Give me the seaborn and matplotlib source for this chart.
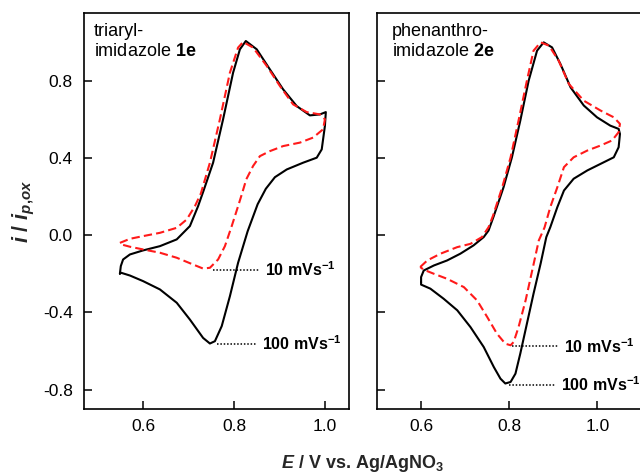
import matplotlib
matplotlib.use("Agg")
import matplotlib.pyplot as plt
import seaborn as sns
import pandas as pd

# ---- data ----
# Panel 1: triaryl-imidazole 1e, 100 mV/s (black, solid)
e1_100 = [0.549, 0.551, 0.556, 0.571, 0.600, 0.637, 0.674, 0.703, 0.721, 0.733, 0.754, 0.776, 0.798,
          0.813, 0.826, 0.850, 0.879, 0.908, 0.938, 0.967, 0.989, 1.002,
          1.000, 0.993, 0.982, 0.952, 0.916, 0.890, 0.870, 0.852, 0.830, 0.809, 0.791, 0.773, 0.758,
          0.747, 0.732, 0.703, 0.674, 0.637, 0.600, 0.571, 0.552, 0.549]
i1_100 = [-0.199, -0.160, -0.126, -0.100, -0.079, -0.057, -0.022, 0.047, 0.150, 0.230, 0.375, 0.600, 0.841,
          0.962, 1.005, 0.962, 0.858, 0.755, 0.668, 0.620, 0.625, 0.637,
          0.565, 0.444, 0.401, 0.375, 0.340, 0.300, 0.240, 0.160, 0.020, -0.143, -0.316, -0.471, -0.549,
          -0.561, -0.532, -0.437, -0.350, -0.281, -0.238, -0.209, -0.195, -0.199]
# Panel 1: 10 mV/s (red, dashed)
e1_10 = [0.549, 0.571, 0.600, 0.637, 0.674, 0.696, 0.714, 0.727, 0.747, 0.769, 0.791, 0.809, 0.820,
         0.842, 0.872, 0.901, 0.930, 0.960, 0.989, 1.000,
         0.996, 0.974, 0.945, 0.908, 0.879, 0.857, 0.842, 0.827, 0.817, 0.809, 0.795, 0.780, 0.765,
         0.747, 0.732, 0.710, 0.674, 0.637, 0.600, 0.571, 0.552, 0.549]
i1_10 = [-0.040, -0.019, -0.005, 0.012, 0.038, 0.081, 0.150, 0.215, 0.375, 0.600, 0.841, 0.971, 1.000,
         0.971, 0.876, 0.772, 0.677, 0.637, 0.625, 0.600,
         0.548, 0.505, 0.479, 0.461, 0.435, 0.409, 0.358, 0.289, 0.210, 0.150, 0.047, -0.057, -0.126,
         -0.169, -0.173, -0.152, -0.117, -0.091, -0.074, -0.060, -0.048, -0.040]

# Panel 2: phenanthro-imidazole 2e, 100 mV/s (black, solid)
e2_100 = [0.600, 0.600, 0.606, 0.629, 0.659, 0.689, 0.719, 0.742, 0.753, 0.765, 0.787, 0.806, 0.825,
          0.844, 0.863, 0.878, 0.897, 0.916, 0.939, 0.969, 0.999, 1.029, 1.048,
          1.051, 1.048, 1.037, 1.007, 0.977, 0.946, 0.924, 0.909, 0.893, 0.884, 0.871, 0.855, 0.840,
          0.825, 0.814, 0.803, 0.791, 0.780, 0.765, 0.742, 0.712, 0.682, 0.651, 0.621, 0.600, 0.600]
i2_100 = [-0.243, -0.217, -0.183, -0.157, -0.131, -0.096, -0.053, -0.010, 0.024, 0.100, 0.248, 0.403, 0.593,
          0.800, 0.955, 0.998, 0.972, 0.886, 0.765, 0.671, 0.610, 0.567, 0.550,
          0.524, 0.455, 0.403, 0.369, 0.335, 0.292, 0.231, 0.145, 0.041, -0.010, -0.148, -0.303, -0.458,
          -0.613, -0.717, -0.760, -0.768, -0.743, -0.683, -0.579, -0.476, -0.389, -0.329, -0.277, -0.256, -0.243]
# Panel 2: 10 mV/s (red, dashed)
e2_10 = [0.598, 0.614, 0.644, 0.682, 0.712, 0.738, 0.753, 0.763, 0.784, 0.803, 0.821, 0.840, 0.855,
         0.871, 0.890, 0.912, 0.935, 0.969, 1.007, 1.037, 1.051,
         1.048, 1.033, 1.007, 0.977, 0.946, 0.924, 0.909, 0.893, 0.880, 0.867, 0.852, 0.837, 0.821,
         0.810, 0.803, 0.791, 0.772, 0.750, 0.727, 0.697, 0.659, 0.629, 0.606, 0.598]
i2_10 = [-0.165, -0.131, -0.096, -0.062, -0.045, -0.010, 0.041, 0.100, 0.248, 0.403, 0.593, 0.800, 0.955,
         0.998, 0.981, 0.903, 0.783, 0.696, 0.645, 0.610, 0.576,
         0.533, 0.490, 0.464, 0.438, 0.403, 0.352, 0.248, 0.145, 0.040, -0.027, -0.183, -0.338, -0.476,
         -0.553, -0.570, -0.562, -0.510, -0.424, -0.338, -0.269, -0.226, -0.200, -0.179, -0.165]

panel_titles = ["triaryl-\nimidazole $\\mathbf{1e}$", "phenanthro-\nimidazole $\\mathbf{2e}$"]
rate_labels = ["10 mVs$^{\\mathbf{-1}}$", "100 mVs$^{\\mathbf{-1}}$"]
# annotation anchors: (line start x, line end x, y) per panel per rate
annot1 = [(0.754, 0.857, -0.178), (0.762, 0.850, -0.561)]
annot2 = [(0.806, 0.912, -0.576), (0.799, 0.905, -0.774)]
xticks = [0.6, 0.8, 1.0]
yticks = [-0.8, -0.4, 0.0, 0.4, 0.8]

# ---- style ----
sns.set_theme(style="ticks")
plt.rcParams["font.family"] = ["Liberation Sans", "DejaVu Sans"]
plt.rcParams["mathtext.fontset"] = "custom"
plt.rcParams["mathtext.rm"] = "Liberation Sans"
plt.rcParams["mathtext.it"] = "Liberation Sans:italic:bold"
plt.rcParams["mathtext.bf"] = "Liberation Sans:bold"
plt.rcParams["xtick.direction"] = "in"
plt.rcParams["ytick.direction"] = "in"
plt.rcParams["xtick.major.size"] = 6
plt.rcParams["ytick.major.size"] = 6
plt.rcParams["xtick.major.width"] = 1.1
plt.rcParams["ytick.major.width"] = 1.1
plt.rcParams["xtick.major.pad"] = 7
plt.rcParams["ytick.major.pad"] = 8
plt.rcParams["xtick.color"] = "black"
plt.rcParams["ytick.color"] = "black"

fig = plt.figure(figsize=(6.4, 4.75), dpi=100)
W, H = 640, 475
ax1 = fig.add_axes([84 / W, (H - 409) / H, 265 / W, 396 / H])
ax2 = fig.add_axes([377 / W, (H - 409) / H, 265 / W, 396 / H])

def draw(ax, e100, i100, e10, i10, title, annots, xlim, title_x, show_ylabels):
    d100 = pd.DataFrame({"E": e100, "i": i100})
    d10 = pd.DataFrame({"E": e10, "i": i10})
    sns.lineplot(data=d100, x="E", y="i", sort=False, estimator=None, ax=ax,
                 color="black", linewidth=1.5)
    sns.lineplot(data=d10, x="E", y="i", sort=False, estimator=None, ax=ax,
                 color="#ff1a1a", linewidth=1.5)
    ax.lines[-1].set_linestyle((0, (4, 2)))
    ax.set_xlim(*xlim)
    ax.set_ylim(-0.9, 1.15)
    ax.set_xticks(xticks)
    ax.set_yticks(yticks)
    ax.set_xticklabels([f"{v:.1f}" for v in xticks])
    if show_ylabels:
        ax.set_yticklabels([f"{v:.1f}" for v in yticks])
    else:
        ax.set_yticklabels([])
    ax.tick_params(axis="both", which="major", direction="in", labelsize=12.5,
                   top=False, right=False)
    for s in ax.spines.values():
        s.set_linewidth(1.2)
        s.set_color("black")
        s.set_visible(True)
    ax.set_xlabel("")
    ax.set_ylabel("")
    ax.text(title_x, 0.975, title, transform=ax.transAxes, ha="left", va="top",
            fontsize=13, linespacing=1.2, color="black")
    for (x0, x1, y), lab in zip(annots, rate_labels):
        ax.plot([x0, x1], [y, y], linestyle=(0, (1, 1.2)), color="black", linewidth=1.1)
        ax.text(x1 + 0.012, y, lab, ha="left", va="center", fontsize=11.5,
                fontweight="bold", color="black")

draw(ax1, e1_100, i1_100, e1_10, i1_10, panel_titles[0], annot1, (0.47, 1.053), 0.038, True)
draw(ax2, e2_100, i2_100, e2_10, i2_10, panel_titles[1], annot2, (0.50, 1.101), 0.056, False)

fig.text(362 / W, 1 - 463 / H, "$E$ / V vs. Ag/AgNO$_\\mathbf{3}$", ha="center", va="center",
         fontsize=13, fontweight="bold")
fig.text(24 / W, 1 - 211 / H, "$i$ / $i_{p\\mathbf{,}ox}$", ha="center", va="center",
         rotation=90, fontsize=15.5, fontweight="bold")

fig.savefig("out.png", dpi=100)
